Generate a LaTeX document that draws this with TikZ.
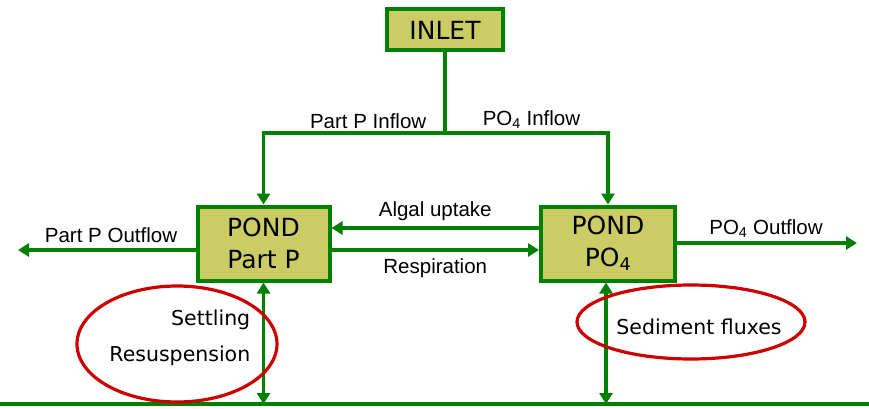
\documentclass[tikz,border=0pt]{standalone}
\usepackage{fontspec}
\setmainfont{DejaVu Sans}
\newfontfamily\arialfont{Liberation Sans}
\usetikzlibrary{arrows.meta, positioning}
\definecolor{cgreen}{HTML}{008000}
\definecolor{colive}{HTML}{CCCC66}
\definecolor{cred}{HTML}{CC0000}
\tikzset{
  every picture/.style={line width=3.5pt},
  box/.style={draw=cgreen, fill=colive, line width=4pt, align=center, inner sep=0pt, font=\fontsize{25}{32}\selectfont},
  line/.style={draw=cgreen, line width=3.5pt},
  flow/.style={line, -{Triangle[length=11pt, width=13pt]}},
  flowboth/.style={line, {Triangle[length=11pt, width=13pt]}-{Triangle[length=11pt, width=13pt]}},
  lbl/.style={font=\arialfont\fontsize{20.5}{24}\selectfont, inner sep=1pt},
  note/.style={font=\fontsize{20.5}{24}\selectfont, inner sep=0pt},
  ring/.style={draw=cred, line width=3.2pt},
}

\begin{document}
\begin{tikzpicture}[x=1pt, y=-1pt]
  \useasboundingbox (0,0) rectangle (869,409);
  % boxes
  \node[box, minimum width=116pt, minimum height=41pt] (inlet) at (445,30) {INLET};
  \node[box, minimum width=132pt, minimum height=74pt] (pondP) at (263.5,243.5) {POND\\Part P};
  \node[box, minimum width=134pt, minimum height=74pt] (pondPO) at (608,243.5) {POND\\PO\textsubscript{4}};
  % inflow split
  \coordinate (split) at (445,133);
  \draw[line] (inlet) -- (split);
  \draw[flow] (split) -| (pondP);
  \draw[flow] (split) -| (pondPO);
  \node[lbl, anchor=south east] at (429,131) {Part P Inflow};
  \node[lbl, anchor=south west] at (480,131) {PO\textsubscript{4} Inflow};
  % exchange between ponds
  \draw[flow] (pondPO.west |- 0,228) -- (pondP.east |- 0,228) node[lbl, midway, above=4pt] {Algal uptake};
  \draw[flow] (pondP.east |- 0,250) -- (pondPO.west |- 0,250) node[lbl, midway, below=6pt] {Respiration};
  % outflows
  \coordinate (outP) at (18,250);
  \coordinate (outPO) at (857,243);
  \draw[flow] (pondP.west |- outP) -- (outP);
  \draw[flow] (pondPO.east |- outPO) -- (outPO);
  \node[lbl, anchor=south] at (111,245) {Part P Outflow};
  \node[lbl, anchor=south] at (766,240) {PO\textsubscript{4} Outflow};
  % sediment
  \coordinate (groundP) at (263.5,404);
  \coordinate (groundPO) at (606,404);
  \draw[line] (0,404) -- (869,404);
  \draw[flowboth] (pondP.south) -- (groundP);
  \draw[flowboth] (pondPO.south -| groundPO) -- (groundPO);
  \draw[ring] (177,344) ellipse [x radius=100, y radius=58];
  \draw[ring] (691,322) ellipse [x radius=114, y radius=37];
  \node[note, anchor=east] (settle) at (252,320) {Settling};
  \node[note, anchor=east] (resusp) at (252,356) {Resuspension};
  \node[note] (sedflux) at (699,327) {Sediment fluxes};
\end{tikzpicture}
\end{document}
